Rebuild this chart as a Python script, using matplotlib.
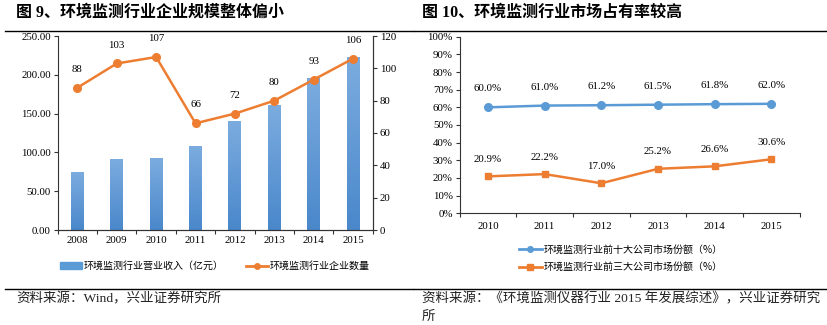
import numpy as np
import matplotlib
matplotlib.use("Agg")
import matplotlib.pyplot as plt
from matplotlib.colors import LinearSegmentedColormap
from matplotlib.lines import Line2D
from matplotlib.patches import Patch

plt.rcParams['font.family'] = ['Liberation Serif', 'Noto Sans CJK SC']

# ---- data: industry size ----
years_a = ['2008', '2009', '2010', '2011', '2012', '2013', '2014', '2015']
revenue = [75.0, 92.0, 93.0, 108.5, 141.0, 161.5, 196.5, 223.5]   # 亿元
companies = [88, 103, 107, 66, 72, 80, 93, 106]

# ---- data: market share ----
years_b = ['2010', '2011', '2012', '2013', '2014', '2015']
top10_share = [60.0, 61.0, 61.2, 61.5, 61.8, 62.0]
top3_share = [20.9, 22.2, 17.0, 25.2, 26.6, 30.6]

BLUE = '#5b9bd5'
ORANGE = '#ed7d31'
CJK = ['Noto Sans CJK SC', 'DejaVu Sans']
NUM = ['Liberation Serif', 'Noto Sans CJK SC']

W, H = 828, 325
fig = plt.figure(figsize=(W / 100, H / 100), dpi=100)


def box(l, t, r, b):
    return [l / W, 1 - b / H, (r - l) / W, (b - t) / H]


def style_axis(ax):
    ax.spines['top'].set_visible(False)
    for s in ax.spines.values():
        s.set_color('#333333')
        s.set_linewidth(0.8)
    ax.tick_params(axis='both', labelsize=7.8, length=3, width=0.8,
                   color='#333333', pad=2)


# ================= left chart =================
ax1 = fig.add_axes(box(57.7, 36, 372.7, 230))
x = np.arange(len(years_a))
bw = 0.33
bars = ax1.bar(x, revenue, width=bw, color=BLUE, zorder=2)
grad = LinearSegmentedColormap.from_list('g', ['#4a88cb', '#7cacdf'])
for b in bars:
    x0, y0 = b.get_x(), b.get_y()
    im = ax1.imshow(np.linspace(0, 1, 64).reshape(-1, 1), cmap=grad,
                    origin='lower', aspect='auto',
                    extent=[x0, x0 + b.get_width(), y0, y0 + b.get_height()],
                    zorder=2.1)
    im.set_clip_path(b)
ax1.set_xlim(-0.5, len(years_a) - 0.5)
ax1.set_ylim(0, 250)
ax1.set_yticks(np.arange(0, 251, 50))
ax1.set_yticklabels([f'{v:.2f}' for v in np.arange(0, 251, 50)])
ax1.set_xticks(x)
ax1.set_xticklabels(years_a)
ax1.set_xticks(np.arange(-0.5, len(years_a)), minor=True)
style_axis(ax1)
ax1.tick_params(axis='x', which='major', length=0, pad=4)
ax1.tick_params(axis='x', which='minor', length=3, width=0.8, color='#333333')

ax2 = ax1.twinx()
ax2.plot(x, companies, color=ORANGE, lw=1.8, marker='o', ms=5.5, zorder=3)
ax2.set_ylim(0, 120)
ax2.set_yticks(np.arange(0, 121, 20))
style_axis(ax2)
ax2.spines['left'].set_visible(False)
for xi, v in zip(x, companies):
    ax2.annotate(f'{v}', (xi, v), xytext=(0, 10), textcoords='offset points',
                 ha='center', va='bottom', fontsize=7.8, family=NUM)

fig.legend(handles=[Patch(color=BLUE, label='环境监测行业营业收入（亿元）'),
                    Line2D([], [], color=ORANGE, lw=2, marker='o', ms=4,
                           label='环境监测行业企业数量')],
           loc='center left', bbox_to_anchor=(60 / W, 1 - 266 / H), ncol=2,
           frameon=False, prop={'family': CJK, 'size': 7.2},
           handlelength=2.2, handleheight=0.6, columnspacing=2.2,
           handletextpad=0.2, borderpad=0, borderaxespad=0)

# ================= right chart =================
ax3 = fig.add_axes(box(459.7, 36.7, 799.7, 213.3))
xb = np.arange(len(years_b))
ax3.plot(xb, top10_share, color=BLUE, lw=1.8, marker='o', ms=5.5, zorder=3)
ax3.plot(xb, top3_share, color=ORANGE, lw=1.8, marker='s', ms=5, zorder=3)
for xi, v in zip(xb, top10_share):
    ax3.annotate(f'{v:.1f}%', (xi, v), xytext=(0, 10),
                 textcoords='offset points', ha='center', va='bottom',
                 fontsize=7.8, family=NUM)
for xi, v in zip(xb, top3_share):
    ax3.annotate(f'{v:.1f}%', (xi, v), xytext=(0, 9),
                 textcoords='offset points', ha='center', va='bottom',
                 fontsize=7.8, family=NUM)
ax3.set_xlim(-0.5, len(years_b) - 0.5)
ax3.set_ylim(0, 100)
ax3.set_yticks(np.arange(0, 101, 10))
ax3.set_yticklabels([f'{v}%' for v in range(0, 101, 10)])
ax3.set_xticks(xb)
ax3.set_xticklabels(years_b)
ax3.set_xticks(np.arange(-0.5, len(years_b)), minor=True)
style_axis(ax3)
ax3.spines['right'].set_visible(False)
ax3.tick_params(axis='x', which='major', length=0, pad=6)
ax3.tick_params(axis='x', which='minor', length=3, width=0.8, color='#333333')

fig.legend(handles=[Line2D([], [], color=BLUE, lw=2, marker='o', ms=4,
                           label='环境监测行业前十大公司市场份额（%）'),
                    Line2D([], [], color=ORANGE, lw=2, marker='s', ms=4,
                           label='环境监测行业前三大公司市场份额（%）')],
           loc='center left', bbox_to_anchor=(519 / W, 1 - 258.5 / H),
           ncol=1, frameon=False, prop={'family': CJK, 'size': 7.2},
           handlelength=2.3, handletextpad=0.2, labelspacing=0.75,
           borderpad=0, borderaxespad=0)

# ================= titles, rules, sources =================
fig.text(16 / W, 1 - 13 / H, '图 9、环境监测行业企业规模整体偏小',
         fontsize=11.5, fontweight='bold', family=NUM, va='center', ha='left')
fig.text(422 / W, 1 - 13 / H, '图 10、环境监测行业市场占有率较高',
         fontsize=11.5, fontweight='bold', family=NUM, va='center', ha='left')

for y in (31, 289):
    fig.add_artist(Line2D([5 / W, 413 / W], [1 - y / H, 1 - y / H],
                          color='black', lw=1.0))
    fig.add_artist(Line2D([414 / W, 827 / W], [1 - y / H, 1 - y / H],
                          color='black', lw=1.0))

fig.text(16 / W, 1 - 299 / H, '资料来源：Wind，兴业证券研究所',
         fontsize=9.7, family=NUM, va='center', ha='left', color='#222222')
fig.text(422 / W, 1 - 299 / H, '资料来源：《环境监测仪器行业 2015 年发展综述》，兴业证券研究',
         fontsize=9.7, family=NUM, va='center', ha='left', color='#222222')
fig.text(422 / W, 1 - 317 / H, '所',
         fontsize=9.7, family=NUM, va='center', ha='left', color='#222222')

fig.savefig('out.png', dpi=100)
